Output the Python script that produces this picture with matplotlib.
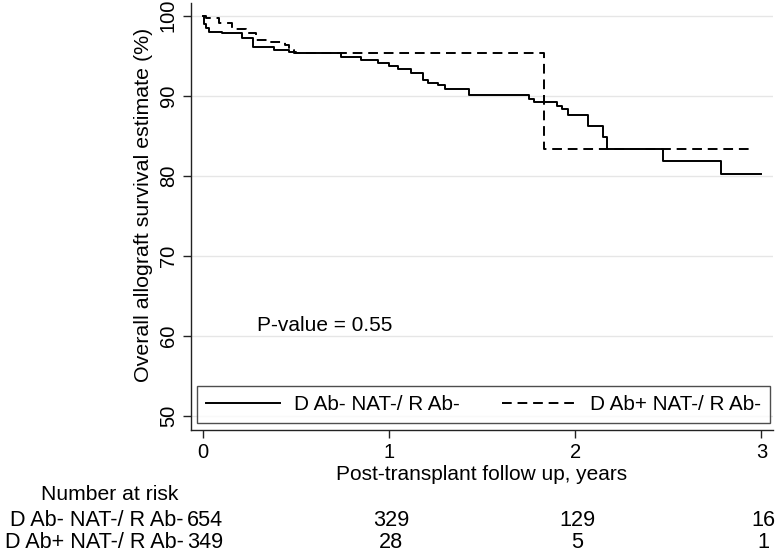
import matplotlib
matplotlib.use("Agg")
import matplotlib.pyplot as plt
from matplotlib.transforms import blended_transform_factory

plt.rcParams['font.family'] = ['Liberation Sans', 'DejaVu Sans']

# Kaplan-Meier step data (time in years, survival %)
neg_time = [0.0, 0.008, 0.016, 0.03, 0.10, 0.21, 0.27, 0.38, 0.46, 0.50, 0.74, 0.85, 0.94,
            1.00, 1.05, 1.12, 1.18, 1.21, 1.26, 1.30, 1.43, 1.75, 1.78, 1.90, 1.93, 1.96,
            2.07, 2.15, 2.17, 2.47, 2.78, 3.00]
neg_surv = [100.0, 99.0, 98.5, 98.0, 97.8, 97.2, 96.1, 95.7, 95.5, 95.3, 94.9, 94.5, 94.1,
            93.75, 93.4, 92.8, 92.0, 91.6, 91.3, 90.8, 90.1, 89.6, 89.25, 88.7, 88.3, 87.6,
            86.2, 84.8, 83.3, 81.9, 80.2, 80.2]

pos_time = [0.0, 0.015, 0.085, 0.155, 0.23, 0.285, 0.35, 0.44, 0.46, 0.49, 1.83, 2.95]
pos_surv = [100.0, 99.7, 99.05, 98.4, 97.8, 97.0, 96.7, 96.3, 95.7, 95.3, 83.3, 83.3]

series_labels = ["D Ab- NAT-/ R Ab-", "D Ab+ NAT-/ R Ab-"]
risk_times = [0, 1, 2, 3]
risk_neg = [654, 329, 129, 16]
risk_pos = [349, 28, 5, 1]
yticks = [50, 60, 70, 80, 90, 100]
xticks = [0, 1, 2, 3]

W, H = 775, 553
fig = plt.figure(figsize=(W / 100, H / 100), dpi=100)
ax = fig.add_axes([191 / W, 1 - 430 / H, (773 - 191) / W, (430 - 3) / H])

ax.step(neg_time, neg_surv, where='post', color='black', lw=1.4, label=series_labels[0])
ax.step(pos_time, pos_surv, where='post', color='black', lw=1.4, linestyle=(0, (5, 3)),
        label=series_labels[1])

ax.set_xlim(-0.0645, 3.062)
ax.set_ylim(48.25, 101.6)
ax.set_yticks(yticks)
ax.set_xticks(xticks)
ax.grid(axis='y', color='#e6e6e6', lw=1.0)
ax.set_axisbelow(True)
for s in ['top', 'right']:
    ax.spines[s].set_visible(False)
for s in ['left', 'bottom']:
    ax.spines[s].set_color('#222222')
    ax.spines[s].set_linewidth(1.0)
ax.tick_params(direction='out', length=6, width=1.0, color='#222222', labelsize=14.5)
for lab in ax.get_yticklabels():
    lab.set_rotation(90)
    lab.set_va('center')
fig.text(143.5 / W, 1 - 205 / H, 'Overall allograft survival estimate (%)', fontsize=15.4,
         rotation=90, ha='center', va='center')
ax.set_xlabel('Post-transplant follow up, years', fontsize=15, labelpad=2)

ax.text(0.289, 61.3, 'P-value = 0.55', fontsize=15, va='center', ha='left')

leg = ax.legend(loc='lower left',
                bbox_to_anchor=((197.3 - 191) / 582, (430 - 422.7) / 427,
                                (770 - 197.3) / 582, (422.7 - 384) / 427),
                mode='expand', ncol=2, fontsize=14.9, frameon=True, fancybox=False,
                edgecolor='#222222', handlelength=3.6, borderaxespad=0, handletextpad=0.65,
                columnspacing=1.72, borderpad=0.42)
leg.get_frame().set_linewidth(1.0)

trans = blended_transform_factory(ax.transData, fig.transFigure)
fig.text(109.5 / W, 1 - 495 / H, 'Number at risk', fontsize=15.2, ha='center', va='center')
fig.text(183.5 / W, 1 - 520 / H, series_labels[0], fontsize=15.6, ha='right', va='center')
fig.text(183.5 / W, 1 - 543 / H, series_labels[1], fontsize=15.6, ha='right', va='center')
for t, n1, n2 in zip(risk_times, risk_neg, risk_pos):
    ax.text(t + 0.01, 1 - 520 / H, str(n1), transform=trans, fontsize=15.6, ha='center',
            va='center')
    ax.text(t + 0.01, 1 - 543 / H, str(n2), transform=trans, fontsize=15.6, ha='center',
            va='center')

fig.savefig('out.png', dpi=100)
